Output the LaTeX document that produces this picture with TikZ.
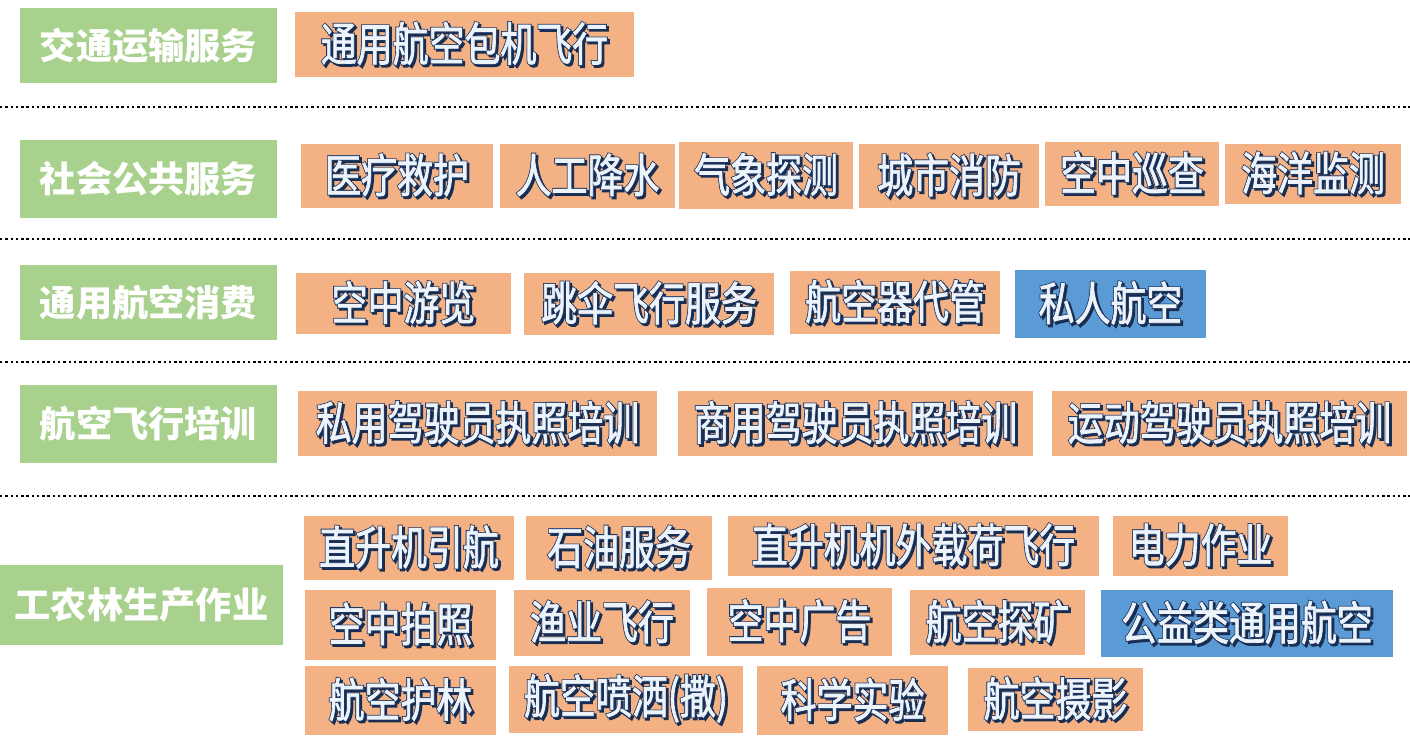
\documentclass[tikz,border=0pt]{standalone}
\usepackage{fontspec}
\newfontfamily\headfont{Noto Sans CJK SC}
\newfontfamily\boxfont[FakeStretch=0.78,FakeBold=1.5]{Noto Sans CJK SC}
\newfontfamily\rimfont[FakeStretch=0.78,FakeBold=5]{Noto Sans CJK SC}
\definecolor{leaf}{RGB}{169,209,142}
\definecolor{peach}{RGB}{244,177,131}
\definecolor{sky}{RGB}{91,155,213}
\definecolor{navy}{RGB}{31,56,100}
\definecolor{glyph}{RGB}{236,243,251}
% outlined label text
\newcommand{\rim}[1]{\rlap{\raisebox{-0.6pt}{\hspace*{0.6pt}\rimfont\color{navy!80!black}#1}}\rlap{\rimfont\color{navy}#1}{\boxfont\color{glyph}#1}}
% box from corner to corner: style, name, x1, y1, x2, y2, text
\newcommand{\putbox}[7]{\node[#1,minimum width={(#5-#3)*0.01cm},minimum height={(#6-#4)*0.01cm}] (#2) at ({(#3+#5)/2},{(#4+#6)/2}) {#7};}

\begin{document}
\begin{tikzpicture}[x=0.01cm,y=-0.01cm,
  head/.style={fill=leaf,inner sep=0pt,text=white,font=\fontsize{10.3}{12}\headfont\bfseries},
  item/.style={fill=peach,inner sep=0pt,font=\fontsize{13.1}{15}\selectfont},
  keybox/.style={item,fill=sky},
  divider/.style={line width=0.8pt,dash pattern=on 0.7pt off 0.8pt}]
\useasboundingbox (0,0) rectangle (1410,743);

% transport
\putbox{head}{jt}{20}{8}{277}{83}{交通运输服务}
\putbox{item}{bj}{295}{12}{634}{77}{\rim{通用航空包机飞行}}
\draw[divider] (0,107) -- (1410,107);

% public service
\putbox{head}{gg}{20}{140}{277}{218}{社会公共服务}
\putbox{item}{yl}{301}{144}{493}{208}{\rim{医疗救护}}
\putbox{item}{js}{500}{144}{675}{208}{\rim{人工降水}}
\putbox{item}{qx}{679}{142}{853}{209}{\rim{气象探测}}
\putbox{item}{xf}{859}{144}{1039}{208}{\rim{城市消防}}
\putbox{item}{xc}{1045}{142}{1219}{206}{\rim{空中巡查}}
\putbox{item}{hy}{1225}{144}{1401}{204}{\rim{海洋监测}}
\draw[divider] (0,239) -- (1410,239);

% consumption
\putbox{head}{xfei}{20}{265}{277}{340}{通用航空消费}
\putbox{item}{yla}{296}{273}{511}{334}{\rim{空中游览}}
\putbox{item}{ts}{524}{273}{774}{335}{\rim{跳伞飞行服务}}
\putbox{item}{dg}{790}{271}{1000}{334}{\rim{航空器代管}}
\putbox{keybox}{sr}{1015}{270}{1206}{338}{\rim{私人航空}}
\draw[divider] (0,362) -- (1410,362);

% training
\putbox{head}{px}{20}{385}{277}{463}{航空飞行培训}
\putbox{item}{sy}{298}{391}{657}{456}{\rim{私用驾驶员执照培训}}
\putbox{item}{sya}{678}{391}{1033}{456}{\rim{商用驾驶员执照培训}}
\putbox{item}{yd}{1052}{391}{1407}{456}{\rim{运动驾驶员执照培训}}
\draw[divider] (0,496) -- (1410,496);

% production
\putbox{head}{sc}{0}{565}{283}{645}{工农林生产作业}
\putbox{item}{yh}{304}{516}{514}{580}{\rim{直升机引航}}
\putbox{item}{sy2}{526}{516}{712}{580}{\rim{石油服务}}
\putbox{item}{wz}{728}{516}{1099}{576}{\rim{直升机机外载荷飞行}}
\putbox{item}{dl}{1113}{516}{1288}{576}{\rim{电力作业}}
\putbox{item}{pz}{305}{590}{496}{660}{\rim{空中拍照}}
\putbox{item}{yy}{514}{590}{690}{656}{\rim{渔业飞行}}
\putbox{item}{gga}{707}{588}{892}{656}{\rim{空中广告}}
\putbox{item}{tk}{910}{590}{1085}{655}{\rim{航空探矿}}
\putbox{keybox}{gy}{1101}{590}{1393}{657}{\rim{公益类通用航空}}
\putbox{item}{hl}{305}{666}{496}{735}{\rim{航空护林}}
\putbox{item}{ps}{509}{666}{743}{733}{\rim{航空喷洒(撒)}}
\putbox{item}{sj}{757}{666}{948}{735}{\rim{科学实验}}
\putbox{item}{sya2}{968}{668}{1143}{731}{\rim{航空摄影}}
\end{tikzpicture}
\end{document}
